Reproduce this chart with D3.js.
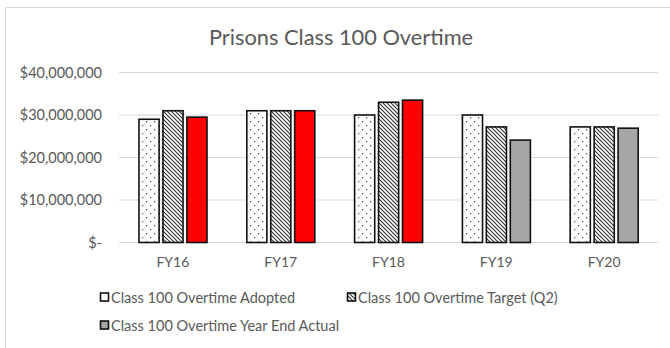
<!DOCTYPE html>
<html><head><meta charset="utf-8">
<script src="https://cdn.jsdelivr.net/npm/d3@7"></script>
<style>body{margin:0;background:#fff}svg{display:block}text{font-family:Lato,"Open Sans",sans-serif;fill:#595959}</style>
</head><body><svg id="c" width="670" height="348"></svg>
<script>
const categories = ["FY16","FY17","FY18","FY19","FY20"];
const seriesNames = ["Class 100 Overtime Adopted","Class 100 Overtime Target (Q2)","Class 100 Overtime Year End Actual"];
const adopted = [29000000,31000000,30000000,30000000,27200000];
const target  = [31000000,31000000,33000000,27200000,27200000];
const actual  = [29500000,31000000,33500000,24100000,26900000];
const actualFinal = [true,true,true,false,false];
const yTicks = [0,10000000,20000000,30000000,40000000];
const title = "Prisons Class 100 Overtime";

const svg = d3.select("#c");
const defs = svg.append("defs");
const pd = defs.append("pattern").attr("id","dots").attr("patternUnits","userSpaceOnUse").attr("width",8).attr("height",8);
pd.append("rect").attr("width",8).attr("height",8).attr("fill","#fff");
pd.append("rect").attr("x",2).attr("y",1).attr("width",1.2).attr("height",1.2).attr("fill","#444");
pd.append("rect").attr("x",6).attr("y",5).attr("width",1.2).attr("height",1.2).attr("fill","#444");
const ph = defs.append("pattern").attr("id","hatch").attr("patternUnits","userSpaceOnUse").attr("width",4).attr("height",4);
ph.append("rect").attr("width",4).attr("height",4).attr("fill","#fff");
ph.append("path").attr("d","M-1,-1L5,5M-1,3L1,5M3,-1L5,1").attr("stroke","#333").attr("stroke-width",1.1);

// border
svg.append("path").attr("d","M5.5,348V7.5H670").attr("fill","none").attr("stroke","#d9d9d9").attr("stroke-width",1);

svg.append("text").attr("x",341).attr("y",45).attr("text-anchor","middle").attr("font-size",21.8).text(title);

const x0 = d3.scaleBand().domain(categories).range([119,658]);
const x1 = d3.scaleBand().domain(seriesNames).range([20,88]).paddingInner(0.16);
const y = d3.scaleLinear().domain([0,40000000]).range([242.5,72.5]);

const fmt = v => v===0 ? "$-" : "$"+d3.format(",")(v);
const g = svg.append("g");
g.selectAll("line.grid").data(yTicks).join("line").attr("class","grid")
  .attr("x1",119).attr("x2",658).attr("y1",d=>y(d)).attr("y2",d=>y(d))
  .attr("stroke","#d9d9d9").attr("stroke-width",1.2);
g.selectAll("text.yl").data(yTicks).join("text").attr("class","yl")
  .attr("x",102).attr("y",d=>y(d)+5).attr("text-anchor","end").attr("font-size",14.5).text(fmt);
g.selectAll("text.xl").data(categories).join("text").attr("class","xl")
  .attr("x",d=>x0(d)+x0.bandwidth()/2).attr("y",267).attr("text-anchor","middle").attr("font-size",14).text(d=>d);

const fills = [()=> "url(#dots)", ()=> "url(#hatch)", i=> actualFinal[i] ? "#ff0000" : "#a6a6a6"];
const vals = [adopted,target,actual];
seriesNames.forEach((s,si)=>{
  g.selectAll("rect.s"+si).data(categories).join("rect").attr("class","s"+si)
   .attr("x",d=>x0(d)+x1(s)).attr("width",x1.bandwidth())
   .attr("y",(d,i)=>y(vals[si][i])).attr("height",(d,i)=>y(0)-y(vals[si][i]))
   .attr("fill",(d,i)=>fills[si](i)).attr("stroke","#111").attr("stroke-width",1.6);
});

const legPos = [[100,298],[347,298],[100,326]];
const legFill = ["#fff","url(#hatch)","#a6a6a6"];
seriesNames.forEach((s,i)=>{
  const [lx,ly] = legPos[i];
  svg.append("rect").attr("x",lx+0.5).attr("y",ly-5).attr("width",8).attr("height",8)
    .attr("fill",legFill[i]).attr("stroke","#111").attr("stroke-width",1.6);
  svg.append("text").attr("x",lx+11).attr("y",ly+5).attr("font-size",14.5).text(s);
});
</script></body></html>
